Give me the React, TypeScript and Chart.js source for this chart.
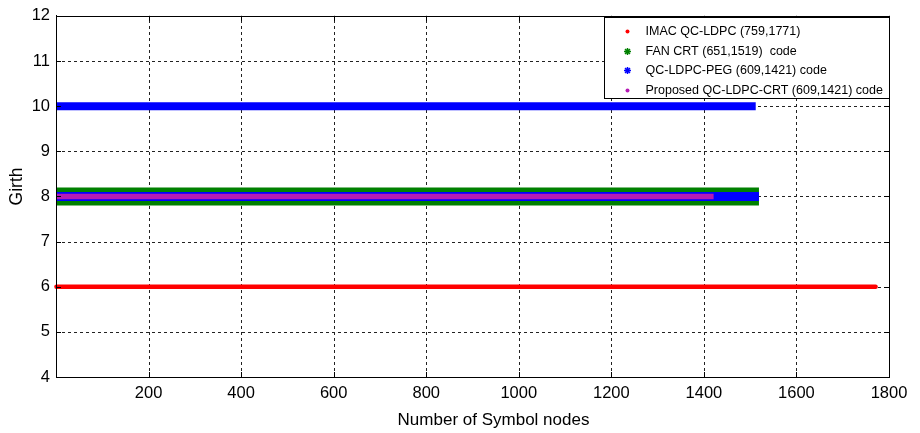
import React, { useEffect, useRef } from "react";
import { Chart, registerables } from "chart.js";

Chart.register(...registerables);

// ---- data ----
const seriesLabels = [
  "IMAC QC-LDPC (759,1771)",
  "FAN CRT (651,1519)  code",
  "QC-LDPC-PEG (609,1421) code",
  "Proposed QC-LDPC-CRT (609,1421) code",
];
// each series: [first symbol node, last symbol node] at a constant girth
const imacNodes = [1, 1771];
const imacGirth = [6, 6];
const fanNodes = [1, 1519];
const fanGirth = [8, 8];
const pegNodesA = [1, 1512];
const pegGirthA = [10, 10];
const pegNodesB = [1, 1519];
const pegGirthB = [8, 8];
const proposedNodes = [1, 1421];
const proposedGirth = [8, 8];

const xTicks = [200, 400, 600, 800, 1000, 1200, 1400, 1600, 1800];
const yTicks = [4, 5, 6, 7, 8, 9, 10, 11, 12];
const xTitle = "Number of Symbol nodes";
const yTitle = "Girth";

const colors = ["#ff0000", "#008000", "#0000ff", "#b51ab5"];

const pts = (xs: number[], ys: number[]) => xs.map((x, i) => ({ x, y: ys[i] }));

const FONT = "'Liberation Sans', Arial, Helvetica, sans-serif";

const gridPlugin = {
  id: "gridPlugin",
  beforeDatasetsDraw(chart: any) {
    const { ctx, chartArea } = chart;
    const { left, right, top, bottom } = chartArea;
    const xs = chart.scales.x;
    const ys = chart.scales.y;
    ctx.save();
    ctx.strokeStyle = "#222";
    ctx.lineWidth = 1;
    ctx.setLineDash([3, 3]);
    ctx.beginPath();
    xs.ticks.forEach((t: any) => {
      const px = Math.round(xs.getPixelForValue(t.value)) + 0.5;
      ctx.moveTo(px, bottom);
      ctx.lineTo(px, top);
    });
    ys.ticks.forEach((t: any) => {
      const py = Math.round(ys.getPixelForValue(t.value)) + 0.5;
      ctx.moveTo(left, py);
      ctx.lineTo(right, py);
    });
    ctx.stroke();
    ctx.restore();
  },
};

const boxPlugin = {
  id: "boxPlugin",
  afterDraw(chart: any) {
    const { ctx, chartArea } = chart;
    const { left, right, top, bottom } = chartArea;
    const xs = chart.scales.x;
    const ys = chart.scales.y;
    ctx.save();
    ctx.strokeStyle = "#000";
    ctx.lineWidth = 1;
    ctx.setLineDash([]);
    ctx.beginPath();
    ctx.rect(Math.round(left) + 0.5, Math.round(top) + 0.5, Math.round(right - left), Math.round(bottom - top));
    ctx.stroke();
    // inward tick marks
    const tl = 5;
    ctx.beginPath();
    xs.ticks.forEach((t: any) => {
      const px = Math.round(xs.getPixelForValue(t.value)) + 0.5;
      ctx.moveTo(px, bottom);
      ctx.lineTo(px, bottom - tl);
      ctx.moveTo(px, top);
      ctx.lineTo(px, top + tl);
    });
    ys.ticks.forEach((t: any) => {
      const py = Math.round(ys.getPixelForValue(t.value)) + 0.5;
      ctx.moveTo(left, py);
      ctx.lineTo(left + tl, py);
      ctx.moveTo(right, py);
      ctx.lineTo(right - tl, py);
    });
    ctx.stroke();

    // axis titles
    ctx.fillStyle = "#000";
    ctx.font = `17px ${FONT}`;
    ctx.textAlign = "center";
    ctx.textBaseline = "middle";
    ctx.fillText(xTitle, (left + right) / 2 + 21, 420);
    ctx.save();
    ctx.translate(17, (top + bottom) / 2 - 10);
    ctx.rotate(-Math.PI / 2);
    ctx.font = `17.5px ${FONT}`;
    ctx.fillText(yTitle, 0, 0);
    ctx.restore();

    // legend
    const lx = Math.round(right - 285) + 0.5;
    const ly = Math.round(top) + 1.5;
    const lw = 285;
    const lh = 81;
    ctx.fillStyle = "#fff";
    ctx.fillRect(lx, ly, lw, lh);
    ctx.strokeStyle = "#000";
    ctx.strokeRect(lx, ly, lw, lh);
    ctx.font = `12.5px ${FONT}`;
    ctx.textBaseline = "middle";
    ctx.textAlign = "left";
    const rowY = [14, 34, 53, 73];
    seriesLabels.forEach((label, i) => {
      const cy = ly + rowY[i];
      const mx = lx + 23;
      ctx.fillStyle = colors[i];
      ctx.strokeStyle = colors[i];
      if (i === 0 || i === 3) {
        ctx.beginPath();
        ctx.arc(mx, cy, 2, 0, Math.PI * 2);
        ctx.fill();
      } else {
        ctx.lineWidth = 1.5;
        ctx.beginPath();
        for (let k = 0; k < 4; k++) {
          const a = (k * Math.PI) / 4;
          ctx.moveTo(mx - 3.5 * Math.cos(a), cy - 3.5 * Math.sin(a));
          ctx.lineTo(mx + 3.5 * Math.cos(a), cy + 3.5 * Math.sin(a));
        }
        ctx.stroke();
        ctx.beginPath();
        ctx.arc(mx, cy, 2, 0, Math.PI * 2);
        ctx.fill();
        ctx.lineWidth = 1;
      }
      ctx.fillStyle = "#000";
      ctx.fillText(label, lx + 41, cy);
    });
    ctx.restore();
  },
};

export default function App() {
  const ref = useRef<HTMLCanvasElement>(null);
  useEffect(() => {
    document.body.style.margin = "0";
    const canvas = ref.current!;
    const line = (data: any, color: string, width: number, cap: string, label: string, order: number) => ({
      label,
      data,
      borderColor: color,
      backgroundColor: color,
      borderWidth: width,
      borderCapStyle: cap,
      pointRadius: 0,
      fill: false,
      clip: 4,
      order,
    });
    const chart = new Chart(canvas, {
      type: "line",
      data: {
        datasets: [
          line(pts(imacNodes, imacGirth), colors[0], 4.5, "round", seriesLabels[0], 1),
          line(pts(proposedNodes, proposedGirth), colors[3], 5.5, "butt", seriesLabels[3], 2),
          line(pts(pegNodesB, pegGirthB), colors[2], 9, "butt", seriesLabels[2], 3),
          line(pts(fanNodes, fanGirth), colors[1], 18, "butt", seriesLabels[1], 4),
          line(pts(pegNodesA, pegGirthA), colors[2], 8, "butt", seriesLabels[2], 5),
        ] as any,
      },
      options: {
        responsive: false,
        animation: false,
        layout: { padding: { top: 15, right: 31, left: 0, bottom: 0 } },
        plugins: { legend: { display: false }, tooltip: { enabled: false } },
        scales: {
          x: {
            type: "linear",
            min: 0,
            max: 1800,
            afterBuildTicks: (s: any) => {
              s.ticks = xTicks.map((v) => ({ value: v }));
            },
            afterFit: (s: any) => {
              s.height = 56;
            },
            ticks: {
              font: { family: FONT, size: 16.5 },
              color: "#000",
              padding: 7,
              maxRotation: 0,
              callback: (v: any) => String(v),
            },
            grid: { display: false, drawTicks: false },
            border: { display: true, color: "#000" },
            title: { display: false },
          },
          y: {
            type: "linear",
            min: 4,
            max: 12,
            afterBuildTicks: (s: any) => {
              s.ticks = yTicks.map((v) => ({ value: v }));
            },
            afterFit: (s: any) => {
              s.width = 56;
            },
            ticks: { font: { family: FONT, size: 16.5 }, color: "#000", padding: 6, callback: (v: any) => String(v) },
            grid: { display: false, drawTicks: false },
            border: { display: true, color: "#000" },
            title: { display: false },
          },
        },
      } as any,
      plugins: [gridPlugin, boxPlugin],
    });
    return () => chart.destroy();
  }, []);
  return <canvas ref={ref} width={920} height={433} style={{ display: "block" }} />;
}
